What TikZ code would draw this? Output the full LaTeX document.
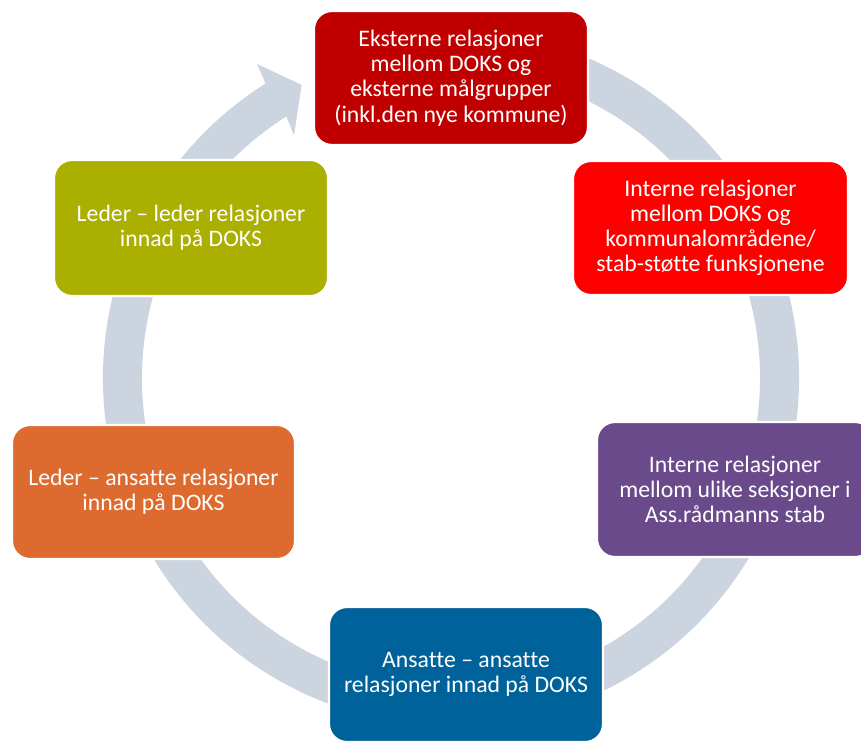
\documentclass[tikz,border=0pt]{standalone}
\usepackage{fontspec}
\setmainfont{Carlito}[Ligatures=NoCommon]
\definecolor{ringc}{HTML}{CBD4DF}
\definecolor{cdarkred}{HTML}{C00000}
\definecolor{cred}{HTML}{FF0000}
\definecolor{cpurple}{HTML}{6A4A8B}
\definecolor{cblue}{HTML}{00629A}
\definecolor{corange}{HTML}{DD6B2F}
\definecolor{colive}{HTML}{AAAF00}
\tikzset{
  cbox/.style={draw=white, line width=1.2pt, rounded corners=0.36cm,
    text=white, align=center, inner sep=2pt,
    font=\fontsize{13.5}{14.3}\selectfont},
}
\begin{document}
\begin{tikzpicture}[x=0.02cm, y=0.02cm]
\useasboundingbox (0,0) rectangle (861,-740);
\clip (0,0) rectangle (861,-740);
% ring with arrow
\begin{scope}[shift={(451,-378)}]
\fill[ringc] (70:348) arc[start angle=70, end angle=-237.8, radius=348]
  -- (-238.3:369) -- (-243:329) -- (-237.1:289) -- (-237.8:309)
  arc[start angle=-237.8, end angle=70, radius=309] -- cycle;
\end{scope}
% boxes
\node[cbox, fill=cdarkred, minimum width=5.48cm, minimum height=2.68cm] (top) at (451,-78)
  {Eksterne relasjoner\\mellom DOKS og\\eksterne målgrupper\\(inkl.den nye kommune)};
\node[cbox, fill=cred, minimum width=5.5cm, minimum height=2.68cm] (right) at (710.5,-228)
  {Interne relasjoner\\mellom DOKS og\\kommunalområdene/\\stab-støtte funksjonene};
\node[cbox, fill=cpurple, minimum width=5.52cm, minimum height=2.7cm] (purple) at (735,-489.5)
  {Interne relasjoner\\mellom ulike seksjoner i\\Ass.rådmanns stab};
\node[cbox, fill=cblue, minimum width=5.48cm, minimum height=2.7cm] (blue) at (466,-674.5)
  {Ansatte – ansatte\\relasjoner innad på DOKS};
\node[cbox, fill=corange, minimum width=5.66cm, minimum height=2.68cm] (orange) at (153.5,-492)
  {Leder – ansatte relasjoner\\innad på DOKS};
\node[cbox, fill=colive, minimum width=5.48cm, minimum height=2.72cm] (olive) at (191,-228)
  {Leder – leder relasjoner\\innad på DOKS};
\end{tikzpicture}
\end{document}
